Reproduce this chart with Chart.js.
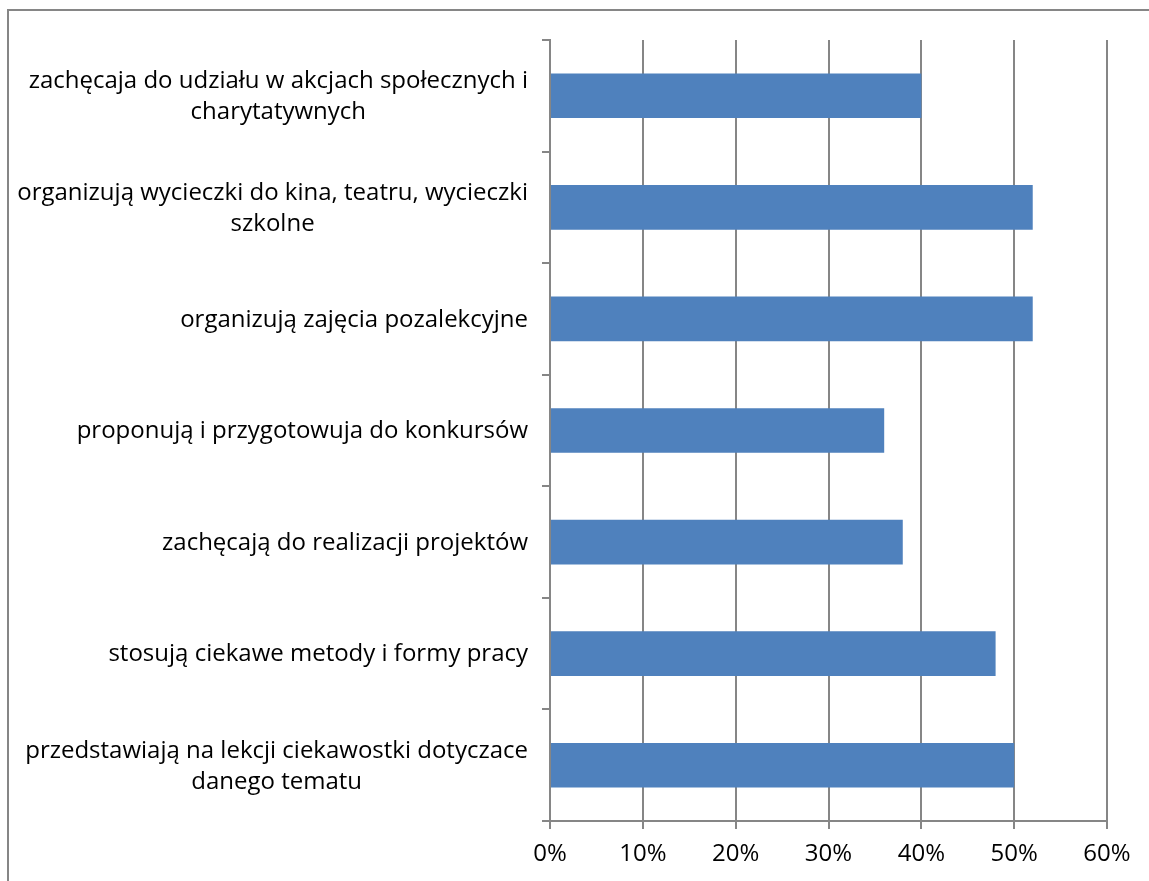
<!DOCTYPE html>
<html>
<head>
<meta charset="utf-8">
<script src="https://cdn.jsdelivr.net/npm/chart.js@4/dist/chart.umd.min.js"></script>
<style>
  html, body { margin: 0; padding: 0; background: #fff; overflow: hidden; }
  #frame { position: absolute; left: 7px; top: 9px; width: 1300px; height: 1000px;
           border-left: 2px solid #868686; border-top: 2px solid #868686; }
  #wrap { position: absolute; left: 0; top: 0; width: 1149px; height: 881px; }
</style>
</head>
<body>
<div id="frame"></div>
<div id="wrap"><canvas id="c"></canvas></div>
<script>
// Activities, top to bottom, each split into its printed lines
const categories = [
  ['zachęcaja do udziału w akcjach społecznych i', 'charytatywnych'],
  ['organizują wycieczki do kina, teatru, wycieczki', 'szkolne'],
  ['organizują zajęcia pozalekcyjne'],
  ['proponują i przygotowuja do konkursów'],
  ['zachęcają do realizacji projektów'],
  ['stosują ciekawe metody i formy pracy'],
  ['przedstawiają na lekcji ciekawostki dotyczace', 'danego tematu']
];
// Share of answers, in percent
const shares = [40, 52, 52, 36, 38, 48, 50];
// Value axis ticks, in percent
const xTicks = [0, 10, 20, 30, 40, 50, 60];

const FONT_FAMILY = '"Open Sans", sans-serif';
const FONT_SIZE = 24;
const AXIS_GREY = '#868686';

// Category names: right-aligned block, lines centred on one another
const categoryLabels = {
  id: 'categoryLabels',
  afterDraw(chart) {
    const y = chart.scales.y;
    const ctx = chart.ctx;
    ctx.save();
    ctx.font = FONT_SIZE + 'px ' + FONT_FAMILY;
    ctx.fillStyle = '#000';
    ctx.textAlign = 'center';
    ctx.textBaseline = 'middle';
    const right = y.right - 22;
    const lineH = 31;
    categories.forEach((lines, i) => {
      const cy = y.getPixelForValue(i) + 1;
      const w = Math.max(...lines.map(l => ctx.measureText(l).width));
      const cx = right - w / 2;
      lines.forEach((l, k) => {
        ctx.fillText(l, cx, cy + (k - (lines.length - 1) / 2) * lineH);
      });
    });
    ctx.restore();
  }
};

new Chart(document.getElementById('c'), {
  type: 'bar',
  data: {
    labels: categories,
    datasets: [{
      data: shares,
      backgroundColor: '#4F81BD',
      borderWidth: 0,
      barPercentage: 0.4,
      categoryPercentage: 1
    }]
  },
  options: {
    indexAxis: 'y',
    responsive: true,
    maintainAspectRatio: false,
    animation: false,
    layout: { padding: { top: 40, right: 42, left: 0, bottom: 0 } },
    plugins: { legend: { display: false }, tooltip: { enabled: false } },
    scales: {
      x: {
        min: xTicks[0],
        max: xTicks[xTicks.length - 1],
        afterBuildTicks(scale) { scale.ticks = xTicks.map(v => ({ value: v })); },
        ticks: {
          callback: v => v + '%',
          color: '#000',
          font: { family: FONT_FAMILY, size: FONT_SIZE },
          padding: 11
        },
        grid: { color: AXIS_GREY, lineWidth: 2, tickLength: 8, tickColor: AXIS_GREY },
        border: { color: AXIS_GREY, width: 2 },
        afterFit(scale) { scale.height = 60; }
      },
      y: {
        ticks: { display: false },
        grid: { offset: true, drawOnChartArea: false, tickLength: 8, color: AXIS_GREY, lineWidth: 2 },
        border: { color: AXIS_GREY, width: 2 },
        afterFit(scale) { scale.width = 550; }
      }
    }
  },
  plugins: [categoryLabels]
});
</script>
</body>
</html>
